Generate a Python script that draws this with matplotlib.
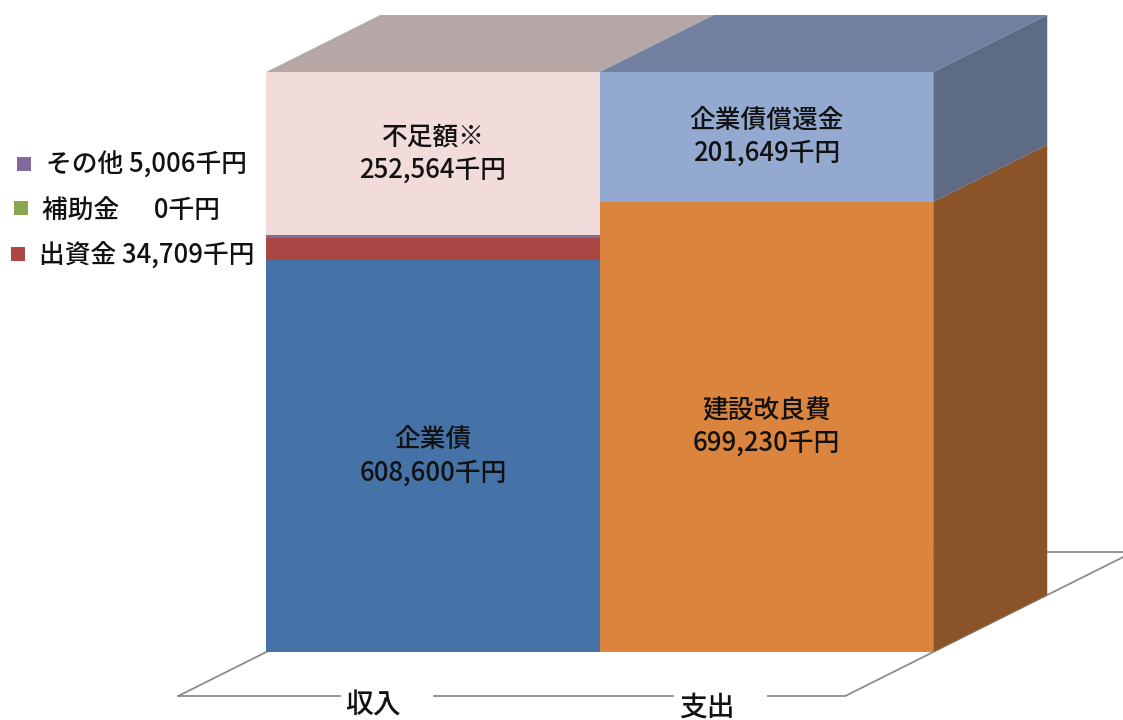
import matplotlib
matplotlib.use("Agg")
import matplotlib.pyplot as plt
from matplotlib.patches import Polygon, Rectangle

plt.rcParams['font.family'] = ['Noto Sans CJK JP', 'DejaVu Sans']
plt.rcParams['font.weight'] = 'medium'

# ---------------- data ----------------
categories = ['収入', '支出']
income_names = ['企業債', '出資金', '補助金', 'その他', '不足額※']
income_values = [608600, 34709, 0, 5006, 252564]
expense_names = ['建設改良費', '企業債償還金']
expense_values = [699230, 201649]

# legend (small income items), top to bottom
legend_names = ['その他', '補助金', '出資金']
legend_values = [5006, 0, 34709]

# ---------------- style ----------------
income_colors = ['#4572A7', '#AA4643', '#89A54E', '#80699B', '#F2DCDB']
expense_colors = ['#DB843D', '#93A9CF']
expense_side_colors = ['#8B5328', '#5D6B83']
top_colors = ['#B6A6A5', '#71809E']
legend_colors = ['#80699B', '#89A54E', '#AA4643']
labelled_income = {'企業債', '不足額※'}

W, H = 1123, 720
fig = plt.figure(figsize=(W / 100, H / 100), dpi=100)
ax = fig.add_axes([0, 0, 1, 1])

# pixel layout of the plotting area
px_c0 = 433.0        # centre of first column (px)
px_per_x = 333.5     # px per column width
px_base = 652.0      # baseline (px from top)
total = sum(income_values)
px_per_y = 580.0 / total
ddx = 114.0 / px_per_x     # depth offset in data units
ddy = 57.0 / px_per_y

ax.set_xlim((0 - px_c0) / px_per_x, (W - px_c0) / px_per_x)
ax.set_ylim((px_base - H) / px_per_y, px_base / px_per_y)
ax.axis('off')

FS = 18.5
TXT = '#111111'

# ---------------- floor ----------------
f0, f1 = -44.0 / 57.0, 100.0 / 57.0
gc = '#8C8C8C'
lw = 1.3
x_left, x_right = -0.5, 1.5


def dp(x, y, d):
    return x + d * ddx, y + d * ddy


# left / right / back edges
for xe in (x_left, x_right):
    a = dp(xe, 0, f0)
    b = dp(xe, 0, f1)
    ax.plot([a[0], b[0]], [a[1], b[1]], color=gc, lw=lw, zorder=0.5, solid_capstyle='butt')
a = dp(x_left, 0, f1)
b = dp(x_right, 0, f1)
ax.plot([a[0], b[0]], [a[1], b[1]], color=gc, lw=lw, zorder=0.5)

# front edge with gaps for category labels
fy = f0 * ddy
fx0 = dp(x_left, 0, f0)[0]
fx1 = dp(x_right, 0, f0)[0]
gaps = [(i - 0.279, i + 0.003) for i in range(len(categories))]
pts = [fx0]
for g0, g1 in gaps:
    pts += [g0, g1]
pts.append(fx1)
for k in range(0, len(pts), 2):
    ax.plot([pts[k], pts[k + 1]], [fy, fy], color=gc, lw=lw, zorder=0.5)

for i, cat in enumerate(categories):
    ax.text(i - 0.262, (px_base - 691 - i * 2) / px_per_y, cat, ha='left', va='top',
            fontsize=20, color=TXT, zorder=5)

# ---------------- bars ----------------
# column 0: income
bottom = 0
for name, v, c in zip(income_names, income_values, income_colors):
    ax.bar(0, v, bottom=bottom, width=1.0, color=c, linewidth=0, zorder=2)
    if name in labelled_income:
        ax.text(0, bottom + v / 2, f"{name}\n{v:,}千円", ha='center', va='center',
                fontsize=FS, linespacing=1.3, color=TXT, zorder=6)
    bottom += v
T0 = bottom

# column 1: expense
bottom = 0
for name, v, c, sc in zip(expense_names, expense_values, expense_colors, expense_side_colors):
    ax.bar(1, v, bottom=bottom, width=1.0, color=c, linewidth=0, zorder=3)
    side = Polygon([(1.5, bottom), (1.5 + ddx, bottom + ddy),
                    (1.5 + ddx, bottom + v + ddy), (1.5, bottom + v)],
                   closed=True, facecolor=sc, edgecolor='none', zorder=3)
    ax.add_patch(side)
    ax.text(1, bottom + v / 2, f"{name}\n{v:,}千円", ha='center', va='center',
            fontsize=FS, linespacing=1.3, color=TXT, zorder=6)
    bottom += v
T1 = bottom

# top faces
for i, T in enumerate((T0, T1)):
    top = Polygon([(i - 0.5, T), (i + 0.5, T), (i + 0.5 + ddx, T + ddy), (i - 0.5 + ddx, T + ddy)],
                  closed=True, facecolor=top_colors[i], edgecolor='none', zorder=3)
    ax.add_patch(top)

# ---------------- manual legend ----------------
sq = [(24, 164), (21, 208), (18, 254)]
tx = [(46, 165), (42, 211), (39, 256)]
for (name, v, c, (sx, sy), (tx_, ty)) in zip(legend_names, legend_values, legend_colors, sq, tx):
    s = 14
    r = Rectangle(((sx - s / 2) / W, 1 - (sy + s / 2) / H), s / W, s / H,
                  transform=fig.transFigure, facecolor=c, edgecolor='none')
    fig.patches.append(r)
    label = f"{name} {v:,}千円" if v else f"{name}      {v}千円"
    fig.text(tx_ / W, 1 - ty / H, label, ha='left', va='center', fontsize=FS, color=TXT)

fig.savefig('out.png', dpi=100)
